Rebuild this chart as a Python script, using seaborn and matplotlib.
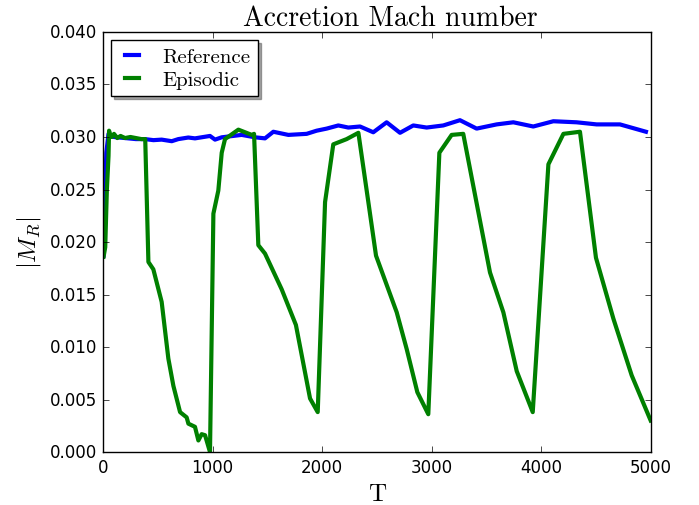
import seaborn as sns
import pandas as pd
from matplotlib import pyplot as plt

plt.style.use("classic")
plt.rcParams["mathtext.fontset"] = "cm"

# Reference run
ref_t = [5, 30, 50, 100, 200, 300, 383, 460, 535, 627, 687, 778, 839, 976, 1022,
         1083, 1265, 1387, 1478, 1554, 1691, 1858, 1949, 2041, 2147, 2238, 2345,
         2466, 2588, 2710, 2831, 2953, 3105, 3257, 3409, 3592, 3744, 3926, 4109,
         4321, 4504, 4717, 4954]
ref_m = [0.0187, 0.0285, 0.0303, 0.0300, 0.0299, 0.0298, 0.0298, 0.0297, 0.02975,
         0.0296, 0.0298, 0.02995, 0.02987, 0.0301, 0.02975, 0.02997, 0.0302, 0.02997,
         0.02987, 0.0305, 0.0302, 0.0303, 0.0306, 0.0308, 0.0311, 0.0309, 0.0310,
         0.03045, 0.0314, 0.0304, 0.0311, 0.0309, 0.0311, 0.0316, 0.0308, 0.0312,
         0.0314, 0.0310, 0.0315, 0.0314, 0.0312, 0.0312, 0.0305]

# Episodic run
epi_t = [5, 20, 35, 50, 55, 65, 80, 100, 130, 160, 200, 250, 300, 350, 385, 414,
         459, 535, 596, 642, 703, 763, 779, 839, 870, 900, 931, 976, 1007, 1052,
         1083, 1113, 1235, 1357, 1378, 1417, 1478, 1630, 1760, 1889, 1959, 2026,
         2101, 2223, 2330, 2421, 2491, 2680, 2771, 2868, 2968, 3069, 3181, 3287,
         3531, 3653, 3775, 3921, 4064, 4201, 4352, 4498, 4657, 4824, 4997]
epi_m = [0.0186, 0.0195, 0.0250, 0.0282, 0.0306, 0.0302, 0.0300, 0.0303, 0.0299,
         0.0301, 0.0299, 0.0300, 0.0299, 0.0298, 0.0298, 0.0181, 0.0174, 0.0143,
         0.0089, 0.0063, 0.0038, 0.0033, 0.0027, 0.0024, 0.0011, 0.0017, 0.0016,
         0.0000, 0.0227, 0.0249, 0.0285, 0.0298, 0.0307, 0.0302, 0.0303, 0.0197,
         0.0189, 0.0155, 0.0121, 0.0051, 0.0038, 0.0238, 0.0293, 0.0298, 0.0304,
         0.0238, 0.0187, 0.0133, 0.0098, 0.0057, 0.0036, 0.0285, 0.0302, 0.0303,
         0.0171, 0.0133, 0.0077, 0.0038, 0.0274, 0.0303, 0.0305, 0.0185, 0.0127,
         0.0073, 0.0030]

df = pd.concat([
    pd.DataFrame({"T": ref_t, "M": ref_m, "run": "Reference"}),
    pd.DataFrame({"T": epi_t, "M": epi_m, "run": "Episodic"}),
])

fig = plt.figure(figsize=(6.99, 5.06), dpi=100)
ax = fig.add_axes([0.1474, 0.1047, 0.7839, 0.8301])

sns.lineplot(x="T", y="M", hue="run", data=df, ax=ax,
             palette={"Reference": "blue", "Episodic": "green"},
             estimator=None, sort=False, linewidth=3)

ax.set_xlim(0, 5000)
ax.set_ylim(0, 0.04)
ax.set_xticks([0, 1000, 2000, 3000, 4000, 5000])
ax.set_yticks([0.0, 0.005, 0.01, 0.015, 0.02, 0.025, 0.03, 0.035, 0.04])
ax.set_yticklabels(["%.3f" % v for v in ax.get_yticks()])

ax.set_title("Accretion Mach number", family="cmr10", fontsize=20, x=0.525)
ax.set_xlabel("T", family="cmr10", fontsize=18)
ax.set_ylabel(r"$|M_R|$", fontsize=18)

ax.legend(loc="upper left", shadow=True, handlelength=1.3, labelspacing=0.2,
          borderpad=0.35, borderaxespad=0.4,
          prop={"family": "cmr10", "size": 15})

plt.savefig("out.png", dpi=100, facecolor="white")
